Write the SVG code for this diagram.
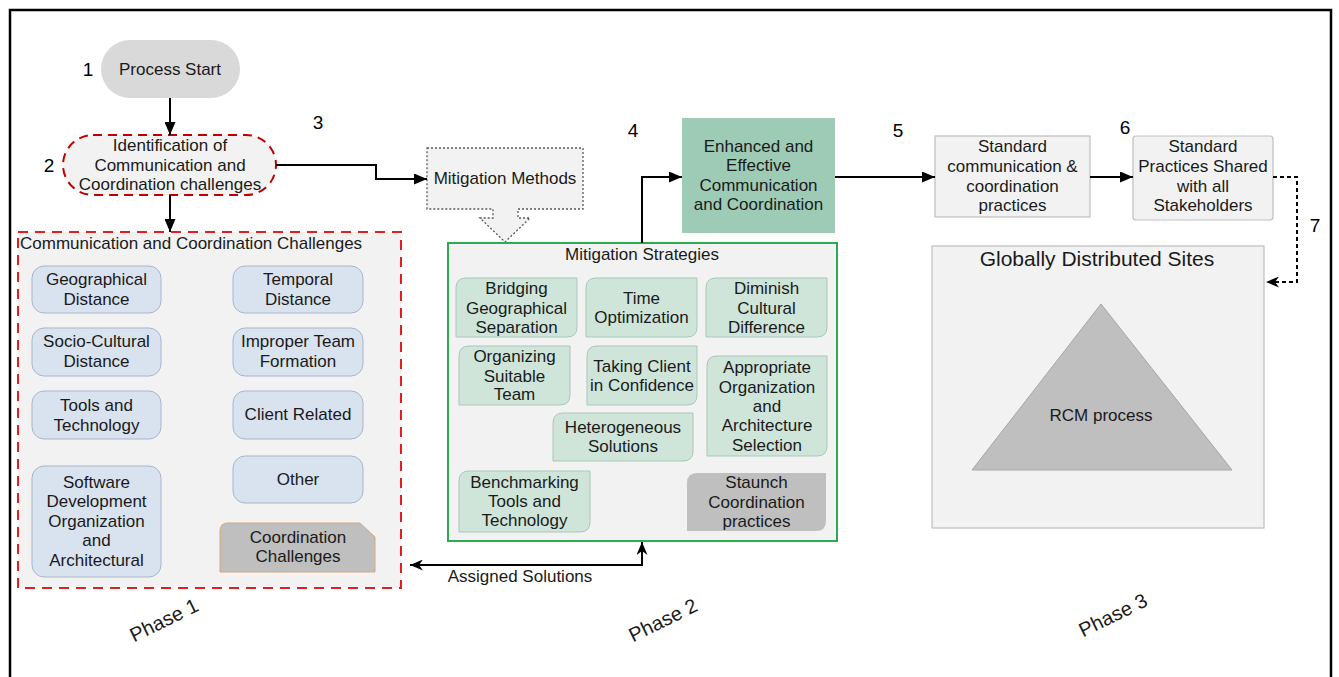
<svg xmlns="http://www.w3.org/2000/svg" width="1339" height="677" viewBox="0 0 1339 677">
<defs>
<marker id="ah" markerWidth="13" markerHeight="11" refX="13" refY="5.5" orient="auto-start-reverse" markerUnits="userSpaceOnUse"><path d="M0,0 L13,5.5 L0,11 z" fill="#000"/></marker>
<marker id="st" markerWidth="13" markerHeight="11" refX="13" refY="5.5" orient="auto-start-reverse" markerUnits="userSpaceOnUse"><path d="M0,0 L13,5.5 L0,11 L4,5.5 z" fill="#000"/></marker>
</defs>
<style>
text{font-family:"Liberation Sans",Arial,sans-serif;font-size:17px;fill:#1a1a1a;text-anchor:middle}
.num{font-size:19px;fill:#000}
.ph{font-size:20px}
.ch{fill:#d9e2ef;stroke:#a9b6c9;stroke-width:1}
.sg{fill:#cfe5da;stroke:#a9c7b8;stroke-width:1}
.con{fill:none;stroke:#000;stroke-width:2}
.gb{fill:#f2f2f2;stroke:#bfbfbf;stroke-width:1.2}
</style>
<rect x="10" y="10" width="1321" height="720" fill="#fff" stroke="#000" stroke-width="2.5"/>

<g id="n-start">
<rect x="101" y="40" width="139" height="58" rx="29" fill="#d9d9d9"/>
<text x="170" y="75">Process Start</text>
<text class="num" x="88" y="76">1</text>
</g>

<g id="n-ident">
<rect x="63" y="135" width="213" height="60" rx="30" fill="#f2f2f2" stroke="#c00000" stroke-width="2" stroke-dasharray="9,6"/>
<text x="170" y="151">Identification of</text>
<text x="170" y="171">Communication and</text>
<text x="170" y="190">Coordination challenges</text>
<text class="num" x="49" y="172">2</text>
</g>

<text class="num" x="318" y="129">3</text>

<g id="n-mitmethods">
<path d="M427,148 H583 V209 H518 V218 H530 L505,242 L480,218 H493 V209 H427 Z" fill="#f2f2f2" stroke="#595959" stroke-width="1.3" stroke-dasharray="2,2"/>
<text x="505" y="184">Mitigation Methods</text>
</g>

<g id="n-challenges">
<rect x="18" y="232" width="383" height="356" fill="#f2f2f2" stroke="#e02020" stroke-width="2" stroke-dasharray="10,7"/>
<text x="20" y="249" style="text-anchor:start">Communication and Coordination Challenges</text>
<rect class="ch" x="32" y="266" width="129" height="47" rx="12"/>
<text x="96.5" y="285">Geographical</text><text x="96.5" y="305">Distance</text>
<rect class="ch" x="233" y="266" width="130" height="47" rx="12"/>
<text x="298" y="285">Temporal</text><text x="298" y="305">Distance</text>
<rect class="ch" x="32" y="328" width="129" height="48" rx="12"/>
<text x="96.5" y="347">Socio-Cultural</text><text x="96.5" y="367">Distance</text>
<rect class="ch" x="233" y="328" width="130" height="48" rx="12"/>
<text x="298" y="347">Improper Team</text><text x="298" y="367">Formation</text>
<rect class="ch" x="32" y="391" width="129" height="48" rx="12"/>
<text x="96.5" y="411">Tools and</text><text x="96.5" y="431">Technology</text>
<rect class="ch" x="233" y="391" width="130" height="48" rx="12"/>
<text x="298" y="420">Client Related</text>
<rect class="ch" x="32" y="466" width="129" height="111" rx="12"/>
<text x="96.5" y="488">Software</text><text x="96.5" y="507">Development</text><text x="96.5" y="527">Organization</text><text x="96.5" y="546">and</text><text x="96.5" y="566">Architectural</text>
<rect class="ch" x="233" y="456" width="130" height="47" rx="12"/>
<text x="298" y="485">Other</text>
<path d="M220,572 V531 Q220,523 228,523 H360 L375,537 V572 Z" fill="#bfbfbf" stroke="#d9a77a" stroke-width="1"/>
<text x="298" y="543">Coordination</text><text x="298" y="562">Challenges</text>
</g>

<g id="n-strategies">
<rect x="448" y="243" width="389" height="298" fill="#f2f2f2" stroke="#2eaa55" stroke-width="2"/>
<text x="642" y="260">Mitigation Strategies</text>
<path class="sg" d="M466,278 H577 V327 Q577,337 567,337 H456 V288 Q456,278 466,278 Z"/>
<text x="516.5" y="294">Bridging</text><text x="516.5" y="314">Geographical</text><text x="516.5" y="333">Separation</text>
<path class="sg" d="M596,278 H697 V327 Q697,337 687,337 H586 V288 Q586,278 596,278 Z"/>
<text x="641.5" y="304">Time</text><text x="641.5" y="323">Optimization</text>
<path class="sg" d="M716,278 H827 V327 Q827,337 817,337 H706 V288 Q706,278 716,278 Z"/>
<text x="766.5" y="294">Diminish</text><text x="766.5" y="314">Cultural</text><text x="766.5" y="333">Difference</text>
<path class="sg" d="M469,346 H570 V395 Q570,405 560,405 H459 V356 Q459,346 469,346 Z"/>
<text x="514.5" y="362">Organizing</text><text x="514.5" y="382">Suitable</text><text x="514.5" y="400">Team</text>
<path class="sg" d="M597,346 H697 V395 Q697,405 687,405 H587 V356 Q587,346 597,346 Z"/>
<text x="642" y="372">Taking Client</text><text x="642" y="391">in Confidence</text>
<path class="sg" d="M717,356 H827 V446 Q827,456 817,456 H707 V366 Q707,356 717,356 Z"/>
<text x="767" y="373">Appropriate</text><text x="767" y="393">Organization</text><text x="767" y="412">and</text><text x="767" y="431">Architecture</text><text x="767" y="451">Selection</text>
<path class="sg" d="M563,413 H693 V451 Q693,461 683,461 H553 V423 Q553,413 563,413 Z"/>
<text x="623" y="433">Heterogeneous</text><text x="623" y="452">Solutions</text>
<path class="sg" d="M469,471 H590 V522 Q590,532 580,532 H459 V481 Q459,471 469,471 Z"/>
<text x="524.5" y="488">Benchmarking</text><text x="524.5" y="507">Tools and</text><text x="524.5" y="526">Technology</text>
<path d="M697,473 H826 V521 Q826,531 816,531 H687 V483 Q687,473 697,473 Z" fill="#bfbfbf"/>
<text x="756.5" y="488">Staunch</text><text x="756.5" y="508">Coordination</text><text x="756.5" y="527">practices</text>
</g>

<text class="num" x="633" y="137">4</text>

<g id="n-enhanced">
<rect x="682" y="118" width="153" height="115" fill="#9ecbb5"/>
<text x="758.5" y="152">Enhanced and</text><text x="758.5" y="171">Effective</text><text x="758.5" y="191">Communication</text><text x="758.5" y="210">and Coordination</text>
</g>

<text class="num" x="898" y="137">5</text>

<g id="n-standard">
<rect class="gb" x="935" y="136" width="155" height="81"/>
<text x="1012.5" y="152">Standard</text><text x="1012.5" y="172">communication &amp;</text><text x="1012.5" y="192">coordination</text><text x="1012.5" y="211">practices</text>
</g>

<text class="num" x="1125" y="134">6</text>

<g id="n-shared">
<rect class="gb" x="1133" y="136" width="140" height="84" rx="3"/>
<text x="1203" y="152">Standard</text><text x="1203" y="172">Practices Shared</text><text x="1203" y="192">with all</text><text x="1203" y="211">Stakeholders</text>
</g>

<text class="num" x="1315" y="232">7</text>

<g id="n-sites">
<rect class="gb" x="932" y="246" width="332" height="282"/>
<text x="1097" y="266" style="font-size:21px">Globally Distributed Sites</text>
<polygon points="1101,304 1232,470 972,470" fill="#bfbfbf" stroke="#a6a6a6" stroke-width="1"/>
<text x="1101" y="421">RCM process</text>
</g>

<g id="connectors">
<path class="con" d="M170,98 V135" marker-end="url(#ah)"/>
<path class="con" d="M170,195 V232" marker-end="url(#ah)"/>
<path class="con" d="M276,165 H376 V179 H427" marker-end="url(#ah)"/>
<path class="con" d="M642,243 V177 H682" marker-end="url(#ah)"/>
<path class="con" d="M835,177 H935" marker-end="url(#ah)"/>
<path class="con" d="M1090,177 H1133" marker-end="url(#ah)"/>
<path class="con" d="M1273,177 H1297 V282 H1266" stroke-dasharray="4,3" marker-end="url(#st)"/>
<path class="con" d="M642,542 V565 H410" marker-start="url(#st)" marker-end="url(#st)"/>
<text x="520" y="582">Assigned Solutions</text>
</g>

<text class="ph" x="164" y="627" transform="rotate(-26 164 620)">Phase 1</text>
<text class="ph" x="663" y="627" transform="rotate(-26 663 620)">Phase 2</text>
<text class="ph" x="1113" y="622" transform="rotate(-26 1113 615)">Phase 3</text>
</svg>
